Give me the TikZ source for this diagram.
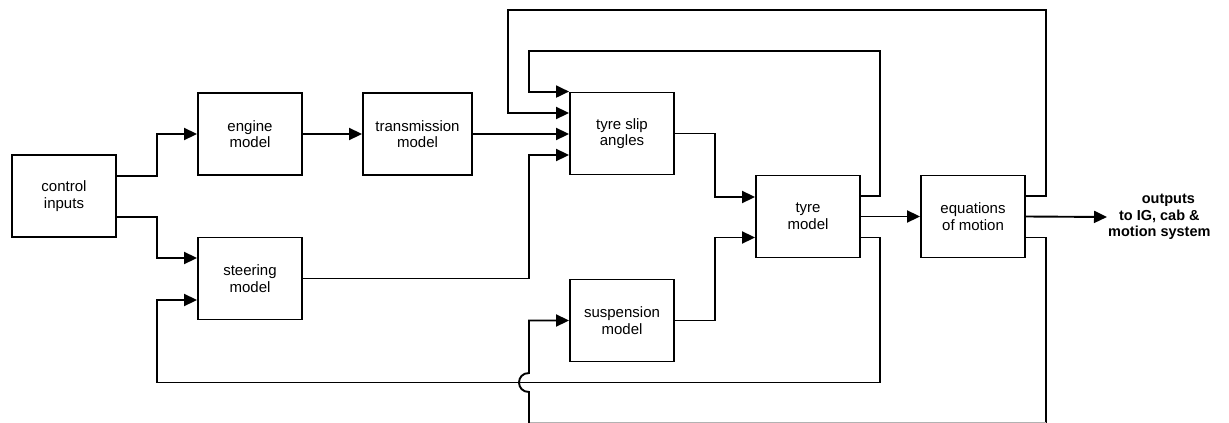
\documentclass[tikz,border=0pt]{standalone}
\usepackage{fontspec}
\setmainfont{Liberation Sans}
\usetikzlibrary{arrows.meta}
\begin{document}
\begin{tikzpicture}[x=1pt,y=-1pt,
  box/.style={draw, line width=1.9pt, minimum width=104pt, minimum height=82pt, inner sep=0pt,
              align=center, font=\fontsize{15}{16.7}\selectfont},
  wire/.style={line width=1.9pt},
  arr/.style={wire, -{Triangle[length=13pt,width=12pt]}},
  faint/.style={draw=black!30, line width=1pt}
  ]
\useasboundingbox (0,0) rectangle (1229,423);
% boxes
\node[box] (ci)  at (64,196)    {control\\inputs};
\node[box] (eng) at (250,134)   {engine\\model};
\node[box] (ste) at (250,278.5) {steering\\model};
\node[box, minimum width=109pt] (tra) at (417.5,134) {transmission\\model};
\node[box] (tsa) at (622,133.5) {tyre slip\\angles};
\node[box] (tyr) at (808,216.5) {tyre\\model};
\node[box] (sus) at (622,320.5) {suspension\\model};
\node[box] (eom) at (973,216.5) {equations\\of motion};
\node[anchor=west, inner sep=0pt, align=center, font=\bfseries\fontsize{14.5}{16.7}\selectfont] (out) at (1108,217)
  {\hspace*{18pt}outputs\\to IG, cab \&\\motion system};
% routing coordinates
\coordinate (xf) at (157,0);
\coordinate (xa) at (529,0);
\coordinate (xb) at (508,0);
\coordinate (xc) at (715,0);
\coordinate (xd) at (880,0);
\coordinate (xe) at (1046,0);
\coordinate (ytop) at (0,10);
\coordinate (ytop2) at (0,51);
\coordinate (ybot) at (0,382.5);
\coordinate (ybot2) at (0,422.3);
\coordinate (yend) at (0,424);
\coordinate (jb) at (0,392);
\coordinate (jt) at (0,373);
% connectors
\draw[arr] ([yshift=20pt]ci.east) -- ([yshift=20pt]ci.east -| xf) |- (eng.west);
\draw[arr] ([yshift=-21pt]ci.east) -- ([yshift=-21pt]ci.east -| xf) |- ([yshift=20.5pt]ste.west);
\draw[arr] (eng.east) -- (tra.west);
\draw[arr] (tra.east) -- (tra.east -| tsa.west);
\draw[arr] (ste.east) -- (ste.east -| xa) |- ([yshift=-21.5pt]tsa.west);
\draw[arr] (tsa.east) -- (tsa.east -| xc) |- ([yshift=19.5pt]tyr.west);
\draw[arr] (sus.east) -- (sus.east -| xc) |- ([yshift=-21pt]tyr.west);
\draw[arr] (tyr.east) -- (eom.west);
\draw[arr] (eom.east) -- ([xshift=-1pt]out.west);
% feedback loops
\draw[arr] ([yshift=20.5pt]tyr.east) -- ([yshift=20.5pt]tyr.east -| xd) -- (xd |- ytop2)
  -- (xa |- ytop2) -- (xa |- tsa.north west) -- (tsa.north west);
\draw[arr] ([yshift=-21pt]tyr.east) -- ([yshift=-21pt]tyr.east -| xd) -- (xd |- ybot)
  -- (xf |- ybot) |- ([yshift=-21.5pt]ste.west);
\draw[arr] ([yshift=20.5pt]eom.east) -- ([yshift=20.5pt]eom.east -| xe) -- (xe |- ytop)
  -- (xb |- ytop) |- ([yshift=20.5pt]tsa.west);
\draw[wire] ([yshift=-21pt]eom.east) -- ([yshift=-21pt]eom.east -| xe) -- (xe |- yend);
\draw[faint] (xe |- ybot2) -- (xa |- ybot2);
\draw[arr] (xa |- yend) -- (xa |- jb) .. controls +(-13.3,0) and +(-13.3,0) .. (xa |- jt) |- (sus.west);
\end{tikzpicture}
\end{document}
